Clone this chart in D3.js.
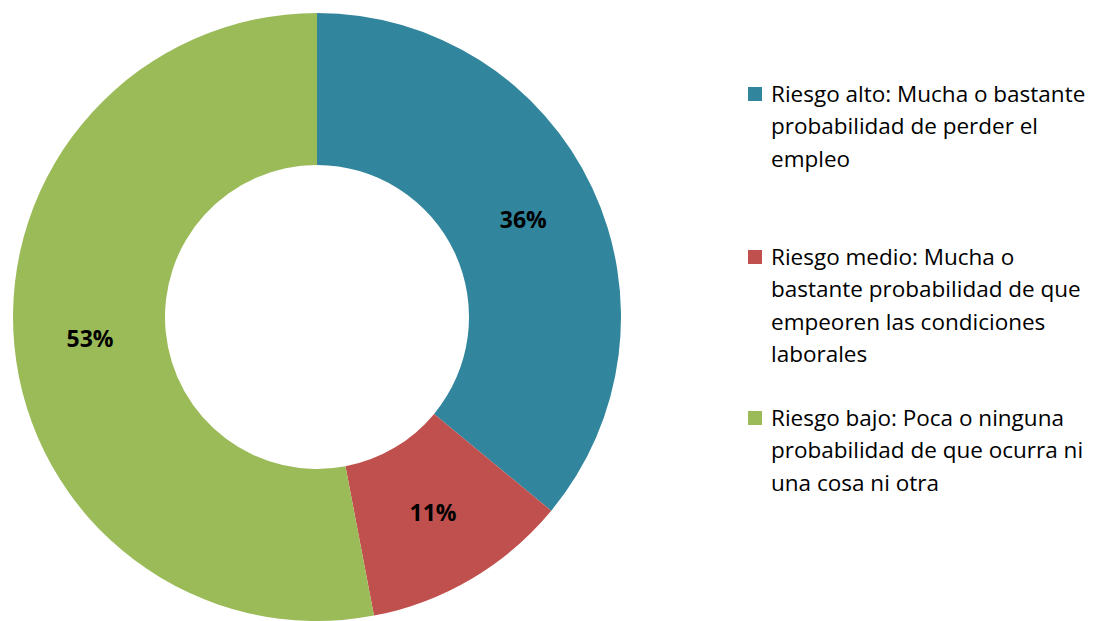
<!DOCTYPE html>
<html><head><meta charset="utf-8">
<script src="https://cdn.jsdelivr.net/npm/d3@7"></script>
<style>body{margin:0;background:#fff}</style>
</head><body>
<svg id="c" width="1097" height="621"></svg>
<script>
const categories = ["Riesgo alto: Mucha o bastante probabilidad de perder el empleo",
  "Riesgo medio: Mucha o bastante probabilidad de que empeoren las condiciones laborales",
  "Riesgo bajo: Poca o ninguna probabilidad de que ocurra ni una cosa ni otra"];
const legendLines = [
  ["Riesgo alto: Mucha o bastante","probabilidad de perder el","empleo"],
  ["Riesgo medio: Mucha o","bastante probabilidad de que","empeoren las condiciones","laborales"],
  ["Riesgo bajo: Poca o ninguna","probabilidad de que ocurra ni","una cosa ni otra"]
];
const values = [36, 11, 53];
const colors = ["#31859C", "#C0504D", "#9BBB59"];

const svg = d3.select("#c");
const cx = 317, cy = 317, R = 304, r = 152;
const pie = d3.pie().sort(null).value(d => d);
const arc = d3.arc().innerRadius(r).outerRadius(R);
const g = svg.append("g").attr("transform", `translate(${cx},${cy})`);
const arcs = pie(values);
g.selectAll("path").data(arcs).join("path")
  .attr("d", arc).attr("fill", (d,i) => colors[i]);
g.selectAll("text").data(arcs).join("text")
  .attr("transform", d => `translate(${arc.centroid(d)})`)
  .attr("text-anchor", "middle").attr("dy", "0.35em")
  .attr("font-family", "Open Sans, sans-serif").attr("font-weight", "bold")
  .attr("font-size", 23).attr("fill", "#000")
  .text(d => d.data + "%");

const legendTop = [94, 257, 418];
const lg = svg.append("g");
legendLines.forEach((lines, i) => {
  lg.append("rect").attr("x", 748).attr("y", legendTop[i] - 7).attr("width", 14).attr("height", 14).attr("fill", colors[i]);
  lines.forEach((t, j) => {
    lg.append("text").attr("x", 771).attr("y", legendTop[i] + j * 32.5)
      .attr("dy", "0.35em")
      .attr("font-family", "Open Sans, sans-serif").attr("font-size", 22.5)
      .attr("fill", "#000").text(t);
  });
});
</script>
</body></html>
